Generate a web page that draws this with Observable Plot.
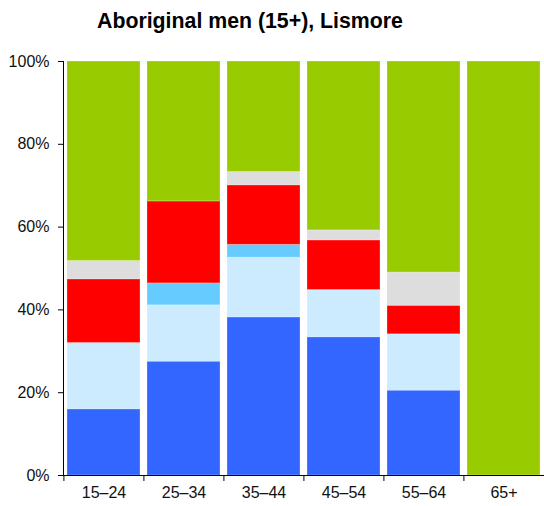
<!DOCTYPE html>
<html>
<head>
<meta charset="utf-8">
<script src="https://cdn.jsdelivr.net/npm/d3@7"></script>
<script src="https://cdn.jsdelivr.net/npm/@observablehq/plot@0.6"></script>
<style>
  html, body { margin: 0; padding: 0; background: #fff; }
  #wrap { position: relative; width: 544px; height: 506px; font-family: "Liberation Sans", Arial, sans-serif; }
  #title { position: absolute; left: 97px; top: 8px; font-size: 21.3px; line-height: 26px; font-weight: bold; color: #000; white-space: nowrap; }
  #chart { position: absolute; left: 0; top: 44px; }
</style>
</head>
<body>
<div id="wrap">
  <div id="title">Aboriginal men (15+), Lismore</div>
  <div id="chart"></div>
</div>
<script>
const ageGroups = ["15–24", "25–34", "35–44", "45–54", "55–64", "65+"];
const seriesNames = ["Employed full-time", "Employed part-time", "Employed, away from work", "Unemployed", "Not stated", "Not in labour force"];
const seriesColors = ["#3366FF", "#CCEBFF", "#66CCFF", "#FF0000", "#DDDDDD", "#99CC00"];
// percentages per series, in age-group order
const fullTime   = [16.0, 27.5, 38.2, 33.4, 20.5, 0];
const partTime   = [16.0, 13.6, 14.4, 11.4, 13.6, 0];
const away       = [0,    5.3,  3.1,  0,    0,    0];
const unemployed = [15.4, 19.8, 14.4, 12.0, 6.9,  0];
const notStated  = [4.4,  0,    3.2,  2.4,  8.0,  0];
const notInLF    = [48.2, 33.8, 26.7, 40.8, 51.0, 100];
const yTicks = [0, 0.2, 0.4, 0.6, 0.8, 1.0];

const seriesValues = [fullTime, partTime, away, unemployed, notStated, notInLF];
const rows = [];
seriesNames.forEach((s, si) => {
  ageGroups.forEach((a, ai) => {
    rows.push({age: a, series: s, value: seriesValues[si][ai] / 100});
  });
});

const W = 544, ML = 63;
const step = (W - ML) / ageGroups.length;

const chart = Plot.plot({
  width: W,
  height: 462,
  marginTop: 17,
  marginBottom: 31,
  marginLeft: ML,
  marginRight: 0,
  style: {fontFamily: "'Liberation Sans', Arial, sans-serif", fontSize: "16px", color: "#111"},
  x: {domain: ageGroups, paddingInner: 0.09, paddingOuter: 0.045, label: null},
  y: {domain: [0, 1], label: null},
  color: {domain: seriesNames, range: seriesColors},
  marks: [
    Plot.barY(rows, Plot.stackY({order: null}, {x: "age", y: "value", fill: "series", stroke: "white", strokeOpacity: 0.25, strokeWidth: 1})),
    Plot.axisY({ticks: yTicks, tickFormat: d => Math.round(d * 100) + "%", tickSize: 5, tickPadding: 9, fontSize: 16, stroke: "#000"}),
    Plot.axisX({tickSize: 0, tickPadding: 11, fontSize: 16}),
    Plot.axisX({tickSize: 6, text: null, dx: -step / 2, stroke: "#000"}),
    Plot.ruleY([0], {stroke: "#000"}),
    Plot.frame({anchor: "left", stroke: "#000"})
  ]
});
document.getElementById("chart").appendChild(chart);
</script>
</body>
</html>
